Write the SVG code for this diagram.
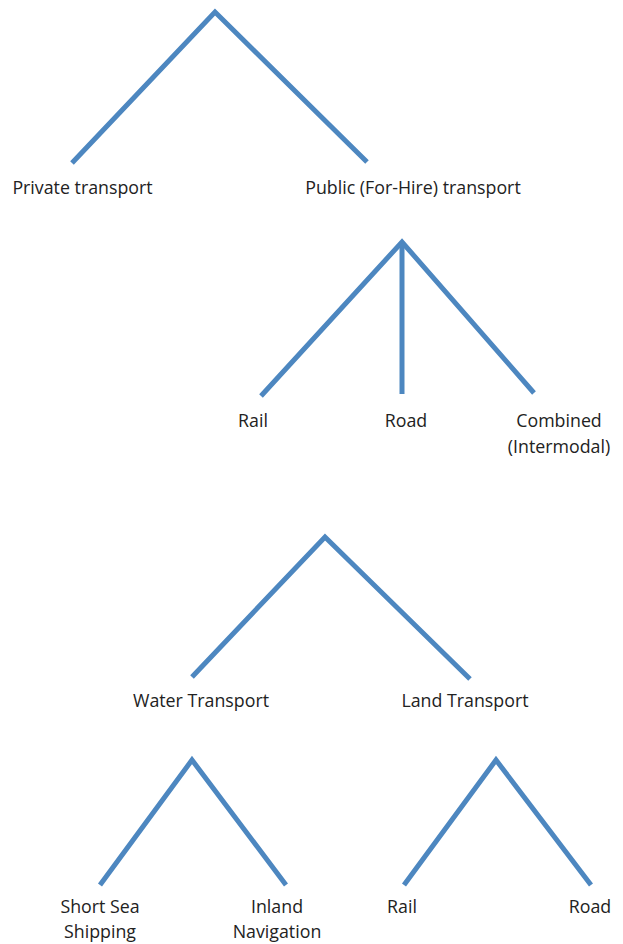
<svg xmlns="http://www.w3.org/2000/svg" width="623" height="944" viewBox="0 0 623 944">
  <style>
    .edge { fill: none; stroke: #4d87c0; stroke-width: 5; stroke-linejoin: miter; }
    .label { font-family: "Open Sans", "Noto Sans", "Liberation Sans", sans-serif; font-size: 17.8px; fill: #222; text-anchor: middle; }
  </style>
  <rect width="623" height="944" fill="#fff"/>
  <g id="connectors">
    <polyline class="edge" points="72,163 215,12 367,162"/>
    <polyline class="edge" points="261,396 402,242 534,393"/>
    <line class="edge" x1="402" y1="242" x2="402" y2="394"/>
    <polyline class="edge" points="192,677 325,537 470,679"/>
    <polyline class="edge" points="100,885 192,760 286,885"/>
    <polyline class="edge" points="404,885 496,760 591,885"/>
  </g>
  <g id="private"><text class="label" x="82.5" y="194">Private transport</text></g>
  <g id="public"><text class="label" x="413" y="194">Public (For-Hire) transport</text></g>
  <g id="rail-1"><text class="label" x="253" y="427">Rail</text></g>
  <g id="road-1"><text class="label" x="406" y="427">Road</text></g>
  <g id="combined"><text class="label" x="559" y="427">Combined</text><text class="label" x="559" y="453">(Intermodal)</text></g>
  <g id="water"><text class="label" x="201" y="707">Water Transport</text></g>
  <g id="land"><text class="label" x="465" y="707">Land Transport</text></g>
  <g id="short-sea"><text class="label" x="100" y="913">Short Sea</text><text class="label" x="100" y="938">Shipping</text></g>
  <g id="inland"><text class="label" x="277" y="913">Inland</text><text class="label" x="277" y="938">Navigation</text></g>
  <g id="rail-2"><text class="label" x="402" y="913">Rail</text></g>
  <g id="road-2"><text class="label" x="590" y="913">Road</text></g>
</svg>
